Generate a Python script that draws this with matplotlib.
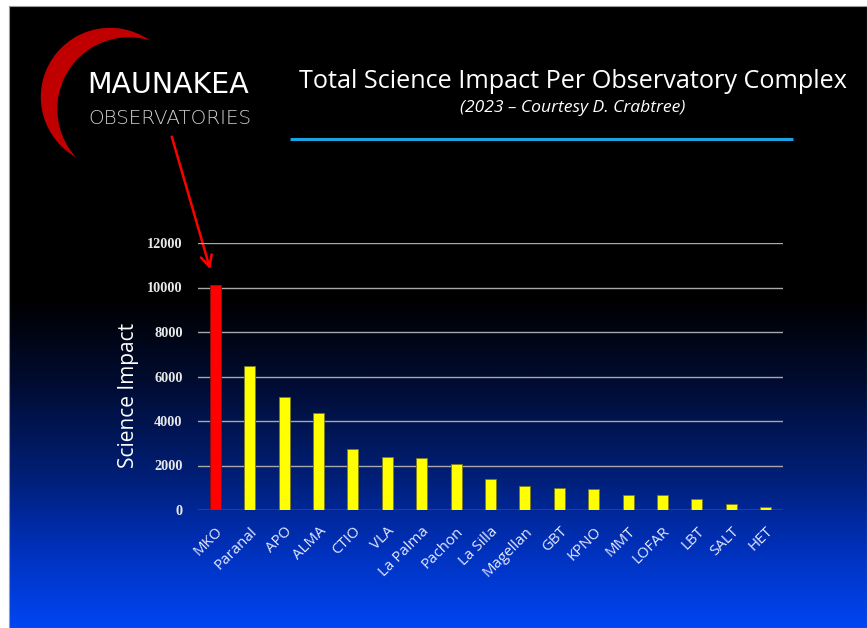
import numpy as np
import matplotlib
matplotlib.use("Agg")
import matplotlib.pyplot as plt
from matplotlib.colors import LinearSegmentedColormap
from matplotlib.patches import Circle, Rectangle

# science impact per observatory complex (2023)
sites = ['MKO', 'Paranal', 'APO', 'ALMA', 'CTIO', 'VLA', 'La Palma', 'Pachon',
         'La Silla', 'Magellan', 'GBT', 'KPNO', 'MMT', 'LOFAR', 'LBT', 'SALT', 'HET']
impact = [10100, 6480, 5070, 4380, 2730, 2370, 2330, 2080,
          1380, 1080, 990, 930, 680, 680, 480, 290, 140]
yticks = [0, 2000, 4000, 6000, 8000, 10000, 12000]

W, H = 867, 628
fig = plt.figure(figsize=(W / 100, H / 100), dpi=100)
fig.patch.set_facecolor('white')

# background slide, drawn in pixel coordinates
bg = fig.add_axes([0, 0, 1, 1])
bg.set_xlim(0, W)
bg.set_ylim(H, 0)
bg.axis('off')

stops = [(0.0, '#000000'), (0.47, '#000000'), (0.60, '#000b2e'),
         (0.76, '#001f78'), (0.87, '#0030b8'), (1.0, '#0045f2')]
cmap = LinearSegmentedColormap.from_list('slide', stops)
grad = np.linspace(0, 1, 400).reshape(-1, 1)
bg.imshow(grad, cmap=cmap, aspect='auto', extent=[9, W, H, 6], zorder=0)
bg.add_patch(Rectangle((9, 6), W - 9, H - 6, fill=False, ec='#9a9a9a', lw=0.8, zorder=1))

# logo crescent
bg.add_patch(Circle((110, 97), 68.5, color='#c00000', zorder=2))
bg.add_patch(Circle((129, 109), 71, color='black', zorder=3))
bg.text(168, 85, 'MAUNAKEA', color='white', fontsize=20.5, family='DejaVu Sans',
        ha='center', va='center', zorder=4)
bg.text(170, 119, 'OBSERVATORIES', color='#cfcfcf', fontsize=14.3, family='DejaVu Sans',
        fontweight=200, ha='center', va='center', zorder=4)

# title block
bg.text(573, 81, 'Total Science Impact Per Observatory Complex', color='white',
        fontsize=18.2, family='Open Sans', ha='center', va='center', zorder=4)
bg.text(573, 108, '(2023 \u2013 Courtesy D. Crabtree)', color='white', fontsize=12.6,
        family='Open Sans', style='italic', ha='center', va='center', zorder=4)
bg.plot([290, 793], [139, 139], color='#1aa3e0', lw=2.2, solid_capstyle='butt', zorder=4)

# arrow from logo to the MKO bar
bg.annotate('', xy=(211, 272), xytext=(171, 134), zorder=5,
            arrowprops=dict(arrowstyle='->', color='#ff0000', lw=1.8, mutation_scale=20))

# chart
ax = fig.add_axes([198 / W, 1 - 510 / H, 585 / W, 267 / H])
ax.set_facecolor('none')
x = np.arange(len(sites))
colors = ['#ff0000'] + ['#ffff00'] * (len(sites) - 1)
edges = ['#8a1010'] + ['#7a7a20'] * (len(sites) - 1)
ax.bar(x, impact, width=0.32, color=colors, edgecolor=edges, linewidth=0.6, zorder=3)
ax.set_xlim(-0.5, len(sites) - 0.5)
ax.set_ylim(0, 12000)
ax.set_yticks(yticks)
ax.yaxis.grid(True, color='#a8a8a8', lw=1.0, zorder=1)
for s in ax.spines.values():
    s.set_visible(False)
ax.tick_params(length=0)
ax.tick_params(axis='y', pad=11)
ax.set_yticklabels([str(v) for v in yticks], family='Liberation Serif',
                   fontweight='bold', fontsize=10.3, color='#e8e8e8')
ax.set_xticks(x)
ax.set_xticklabels(sites, rotation=45, ha='right', rotation_mode='anchor',
                   family='Open Sans', fontsize=10.8, color='#e6e8ff')
ax.tick_params(axis='x', pad=10)
ax.set_ylabel('Science Impact', family='Open Sans', fontsize=15, color='white')
ax.yaxis.set_label_coords(-0.101, 0.43)

fig.savefig('out.png', dpi=100)
